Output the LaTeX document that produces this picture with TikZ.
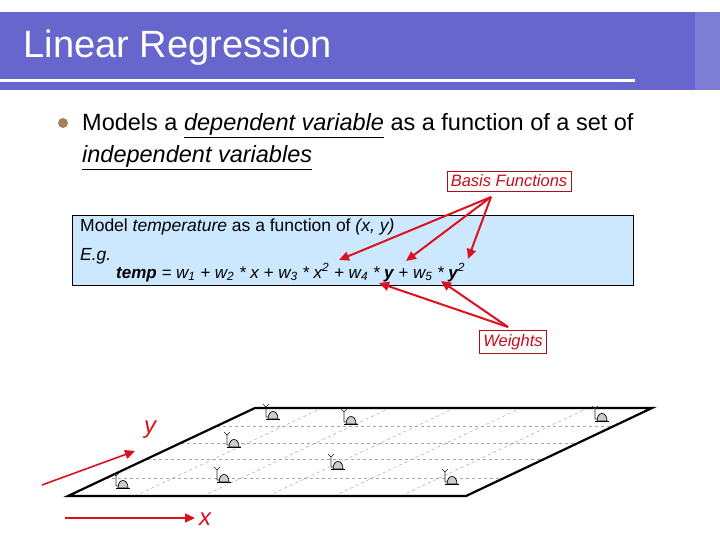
\documentclass[tikz,border=0pt]{standalone}
\usepackage{fontspec}
\setmainfont{Liberation Sans}
\usetikzlibrary{arrows.meta}
\definecolor{band}{HTML}{6666CC}
\definecolor{boxblue}{HTML}{CCE8FF}
\definecolor{dred}{HTML}{DD1020}
\begin{document}
\begin{tikzpicture}[x=1pt,y=-1pt,
  redbox/.style={draw=dred!80!black,fill=white,text=dred!90!black,font=\fontsize{16.5}{19}\selectfont\itshape,inner sep=4pt},
  redarrow/.style={dred,line width=2pt,-{Triangle[length=10pt,width=9pt]}},
  grid/.style={gray!70,dashed,line width=0.5pt},
  sensor/.pic={\draw[gray!30!black,line width=0.6pt] (-7,1)--(-7,-10) (-10,-12)--(-7,-9)--(-4,-12) (-7,1)--(-3,1);
    \filldraw[draw=black,fill=gray!40,line width=0.7pt] (-5,3) .. controls (-5,-7) and (5,-7) .. (5,3) -- cycle;
    \draw[line width=0.8pt] (-7,3.5)--(7,3.5);}]
\useasboundingbox (0,0) rectangle (720,540);
% header
\fill[band] (0,12) rectangle (705,90);
\fill[band!85!white] (695,12) rectangle (720,90);
\fill[white] (0,79) rectangle (635,82);
\node[anchor=west,text=white,font=\fontsize{38}{42}\selectfont] (title) at (20,48) {Linear Regression};
% bullet
\fill[brown!60!gray] (63,123) circle (5);
\node[anchor=base west,font=\fontsize{23.5}{27}\selectfont,inner sep=0] (l1) at (82,131) {Models a \underline{\itshape dependent variable} as a function of a set of};
\node[anchor=base west,font=\fontsize{23.5}{27}\selectfont,inner sep=0] (l2) at (82,163) {\underline{\itshape independent variables}};
% blue box
\node[draw=black,fill=boxblue,minimum width=561,minimum height=70,anchor=north west,inner sep=0] (box) at (72,215) {};
\node[anchor=base west,inner sep=0,font=\fontsize{17.5}{20}\selectfont] (m) at (80,231) {Model \textit{temperature} as a function of \textit{(x, y)}};
\node[anchor=base west,inner sep=0,font=\fontsize{17.5}{20}\selectfont\itshape] (eg) at (80,260) {E.g.};
\node[anchor=base west,inner sep=0,font=\fontsize{17}{20}\selectfont\itshape] (f) at (116,278)
 {\textbf{temp} = w\textsubscript{1} + w\textsubscript{2} * x + w\textsubscript{3} * x\textsuperscript{2} + w\textsubscript{4} * \textbf{y} + w\textsubscript{5} * \textbf{y}\textsuperscript{2}};
% labels
\node[redbox] (bf) at (509,181) {Basis Functions};
\node[redbox] (wt) at (513,342) {Weights};
\coordinate (bfo) at (491,197);
\coordinate (wto) at (508,327);
\coordinate (t1) at (339,260);
\coordinate (t2) at (406,261);
\coordinate (t3) at (468,259);
\coordinate (t4) at (379,283);
\coordinate (t5) at (441,281);
\draw[redarrow] (bfo) -- (t1);
\draw[redarrow] (bfo) -- (t2);
\draw[redarrow] (bfo) -- (t3);
\draw[redarrow] (wto) -- (t4);
\draw[redarrow] (wto) -- (t5);
% plane
\coordinate (p1) at (68,496); \coordinate (p2) at (466,496);
\coordinate (p3) at (652,408); \coordinate (p4) at (255,408);
\foreach \y in {426,443,459,478} \draw[grid] ({68+187*(496-\y)/88},\y) -- ({466+186*(496-\y)/88},\y);
\foreach \x in {135,203,268,334,401} \draw[grid] (\x,496) -- (\x+187,408);
\draw[line width=2.2pt] (p1) -- (p2) -- (p3) -- (p4) -- cycle;
\foreach \p in {(273,416),(351,421),(602,418),(234,444),(338,466),(123,485),(224,479),(452,481)}
  \pic at \p {sensor};
% axes
\coordinate (ya) at (42,485); \coordinate (yb) at (135,451);
\coordinate (xa) at (65,518); \coordinate (xb) at (195,518);
\draw[redarrow,line width=1.6pt] (ya) -- (yb);
\draw[redarrow,line width=1.6pt] (xa) -- (xb);
\node[text=dred,font=\fontsize{24}{28}\selectfont\itshape] (ylab) at (150,430) {y};
\node[text=dred,font=\fontsize{24}{28}\selectfont\itshape] (xlab) at (205,519) {x};
\end{tikzpicture}
\end{document}
